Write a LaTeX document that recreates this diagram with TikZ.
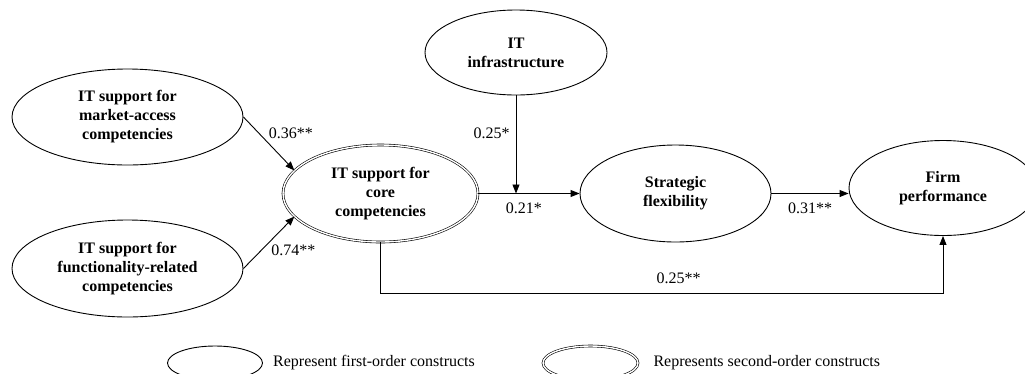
\documentclass[tikz,border=0pt]{standalone}
\usepackage{fontspec}
\setmainfont{Liberation Serif}
\usetikzlibrary{shapes.geometric, arrows.meta, positioning}
\begin{document}
\begin{tikzpicture}[x=1pt, y=-1pt,
        construct/.style={draw, ellipse, line width=0.9pt, inner sep=0pt, align=center,
            font=\bfseries\fontsize{16}{19}\selectfont},
        secondorder/.style={construct, double, double distance=1.4pt, line width=0.6pt},
        link/.style={line width=0.9pt, -{Triangle[length=9pt, width=7pt]}},
        coef/.style={inner sep=2pt, font=\fontsize{16}{19}\selectfont},
        keytext/.style={inner sep=0pt, font=\fontsize{16}{19}\selectfont}]
    \useasboundingbox (0,0) rectangle (1025,373);

    \node[construct, minimum width=231pt, minimum height=96pt] at (127.5, 117)   (market) {IT support for\\market-access\\competencies};
    \node[construct, minimum width=231pt, minimum height=97pt] at (127.5, 268.5) (func)   {IT support for\\functionality-related\\competencies};
    \node[secondorder, minimum width=195pt, minimum height=97pt] at (380.5, 193.5) (core) {IT support for\\core\\competencies};
    \node[construct, minimum width=182pt, minimum height=85pt] at (516, 52.5)    (infra)  {IT\\infrastructure};
    \node[construct, minimum width=191pt, minimum height=97pt] at (675.5, 193.5) (flex)   {Strategic\\flexibility};
    \node[construct, minimum width=188pt, minimum height=95pt] at (943, 188)     (perf)   {Firm\\performance};

    \coordinate (join) at (infra.south |- core.east);

    \draw[link] (market.east) -- (core.165) node[coef, pos=0.45, above right] {0.36**};
    \draw[link] (func.east)   -- (core.195) node[coef, pos=0.5, below right] {0.74**};
    \draw[link] (infra.south) -- (join)     node[coef, pos=0.39, left=4pt] {0.25*};
    \draw[link] (core.east)   -- (flex.west) node[coef, pos=0.45, below=7pt] {0.21*};
    \draw[link] (flex.east)   -- (flex.east -| perf.west) node[coef, midway, below=7pt] {0.31**};
    \draw[link] (core.south) -- ++(0,51) coordinate (low)
        -- (low -| perf.south) node[coef, pos=0.53, above=7pt] {0.25**}
        -- (perf.south);

    % legend
    \node[construct, minimum width=95pt, minimum height=34pt] at (215, 363) (firstkey) {};
    \node[keytext, right=10pt of firstkey] {Represent first-order constructs};
    \node[secondorder, minimum width=95pt, minimum height=34pt] at (590.5, 363) (secondkey) {};
    \node[keytext, right=15pt of secondkey] {Represents second-order constructs};
\end{tikzpicture}
\end{document}
